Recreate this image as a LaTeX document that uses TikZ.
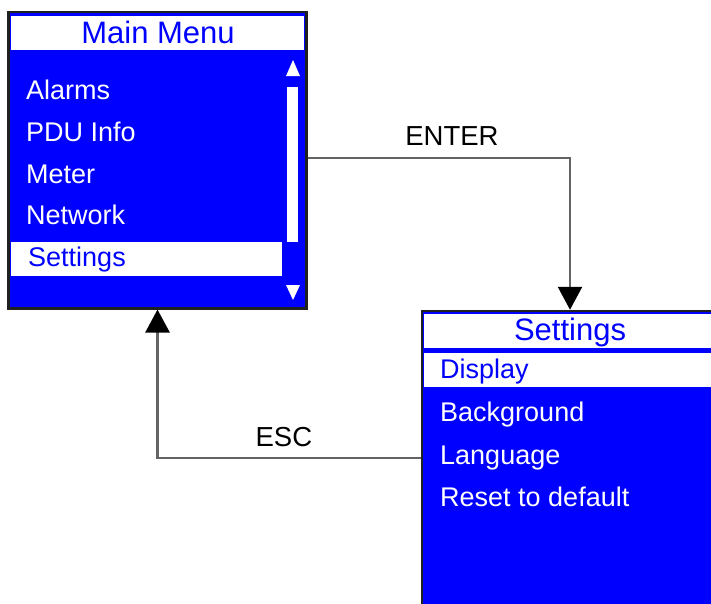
\documentclass[tikz,border=0pt]{standalone}
\usepackage{fontspec}
\setmainfont{Liberation Sans}
\usetikzlibrary{arrows.meta,positioning}
\definecolor{lcdblue}{RGB}{0,0,255}
\definecolor{linkgray}{RGB}{100,100,100}
\definecolor{framegray}{RGB}{32,32,32}
\tikzset{
  screen/.style={draw=framegray, line width=2.5pt, fill=lcdblue, inner sep=0pt},
  entry/.style={anchor=base west, inner sep=0pt, text=white, font=\fontsize{27}{32}\selectfont},
  title/.style={anchor=base, inner sep=0pt, text=lcdblue, font=\fontsize{31}{37}\selectfont},
  key/.style={anchor=base, inner sep=0pt, font=\fontsize{27.5}{33}\selectfont},
  link/.style={draw=linkgray, line width=2.5pt, -{Triangle[width=24pt,length=23pt,color=black]}}
}

\begin{document}
\begin{tikzpicture}[x=1pt, y=-1pt]
        \useasboundingbox (0,0) rectangle (711,603);
        \clip (0,0) rectangle (711,603);
        % --- main menu screen
        \node[screen, minimum width=298pt, minimum height=296.5pt] (menu) at (157.5,160) {};
        \fill[white] (11,16) rectangle (304,50);
        \node[title] (menutitle) at (158,43.5) {Main Menu};
        \foreach \name/\y [count=\i] in {Alarms/99, PDU Info/141, Meter/183, Network/224}{
          \node[entry] (item\i) at (26,\y) {\name};}
        \fill[white] (11,242) rectangle (282,276);
        \node[entry, text=lcdblue] (itemsel) at (28,266) {Settings};
        % scroll bar
        \fill[white] (287,87) rectangle (298,242);
        \fill[white] (286,76) -- (300,76) -- (293,60) -- cycle;
        \fill[white] (286,285) -- (300,285) -- (293,300) -- cycle;
        % --- settings screen
        \node[screen, minimum width=296pt, minimum height=294pt] (settings) at (570,458) {};
        \fill[white] (424,314) rectangle (711,348);
        \node[title] (settitle) at (570,340) {Settings};
        \fill[white] (424,353) rectangle (711,387);
        \node[entry, text=lcdblue] (setsel) at (440,378) {Display};
        \foreach \name/\y [count=\i] in {Background/421, Language/464, Reset to default/506}{
          \node[entry] (set\i) at (440,\y) {\name};}
        % --- keys
        \draw[link] ([yshift=2pt]menu.east) -| node[key, pos=0.275, yshift=13pt] (enterkey) {ENTER} (settings.north);
        \draw[link] (settings.west) -| node[key, pos=0.26, yshift=12pt] (esckey) {ESC} (menu.south);
      \end{tikzpicture}
\end{document}
